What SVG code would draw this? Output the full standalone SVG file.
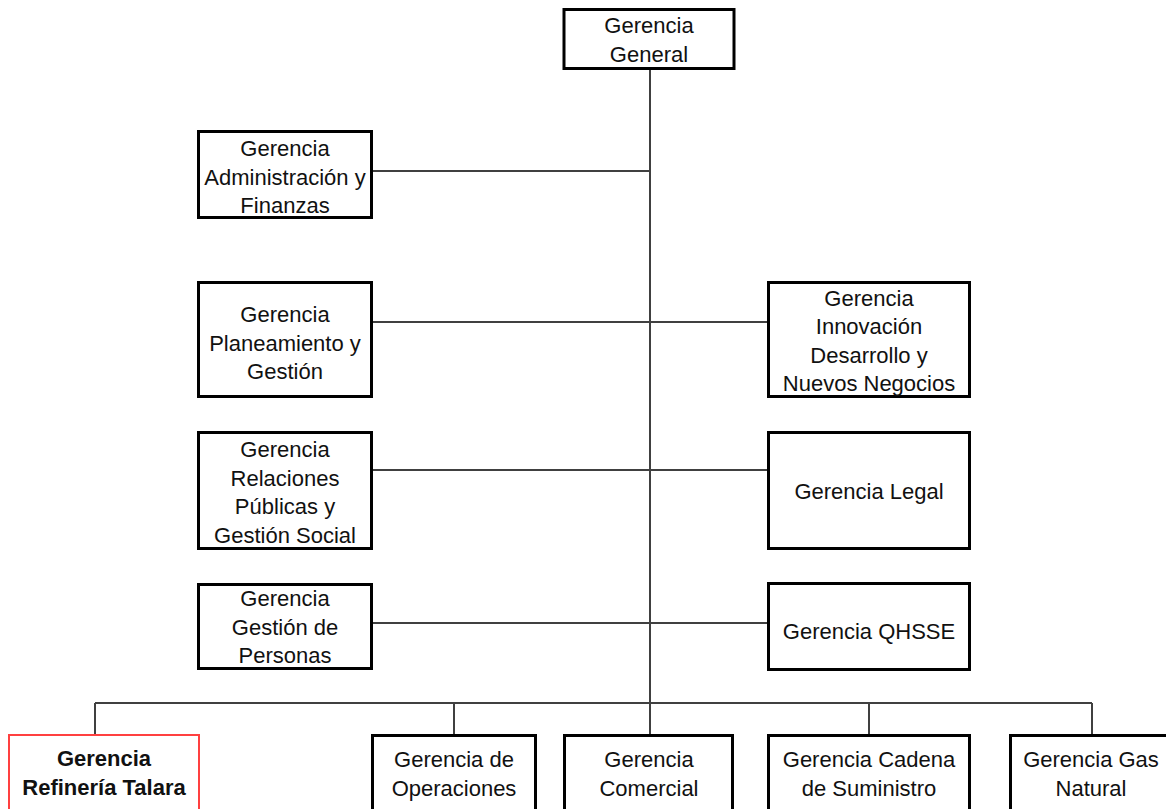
<svg xmlns="http://www.w3.org/2000/svg" width="1166" height="809" viewBox="0 0 1166 809">
<style>
.box{fill:#fff;stroke:#000;stroke-width:3}
.red{fill:#fff;stroke:#ff4040;stroke-width:2}
.t{font-family:"Liberation Sans",Arial,sans-serif;font-size:22px;fill:#111;text-anchor:middle}
.b{font-weight:bold}
.c{stroke:#404040;stroke-width:2;fill:none}
</style>
<rect width="1166" height="809" fill="#fff"/>
<g id="connectors">
<line class="c" x1="650" y1="70" x2="650" y2="734"/>
<line class="c" x1="373" y1="171" x2="650" y2="171"/>
<line class="c" x1="373" y1="322" x2="767" y2="322"/>
<line class="c" x1="373" y1="470" x2="767" y2="470"/>
<line class="c" x1="373" y1="623" x2="767" y2="623"/>
<line class="c" x1="95" y1="703" x2="1092" y2="703"/>
<line class="c" x1="95" y1="703" x2="95" y2="734"/>
<line class="c" x1="454" y1="703" x2="454" y2="734"/>
<line class="c" x1="869" y1="703" x2="869" y2="734"/>
<line class="c" x1="1092" y1="703" x2="1092" y2="734"/>
</g>
<g id="general">
<rect class="box" x="564" y="9.5" width="170" height="59"/>
<text class="t" x="649" y="33">Gerencia</text>
<text class="t" x="649" y="62">General</text>
</g>
<g id="admin">
<rect class="box" x="198.5" y="131.5" width="173" height="86"/>
<text class="t" x="285" y="156">Gerencia</text>
<text class="t" x="285" y="184.5">Administración y</text>
<text class="t" x="285" y="213">Finanzas</text>
</g>
<g id="planeamiento">
<rect class="box" x="198.5" y="282.5" width="173" height="114"/>
<text class="t" x="285" y="322">Gerencia</text>
<text class="t" x="285" y="350.5">Planeamiento y</text>
<text class="t" x="285" y="379">Gestión</text>
</g>
<g id="innovacion">
<rect class="box" x="768.5" y="282.5" width="201" height="114"/>
<text class="t" x="869" y="305.5">Gerencia</text>
<text class="t" x="869" y="334">Innovación</text>
<text class="t" x="869" y="362.5">Desarrollo y</text>
<text class="t" x="869" y="390.5">Nuevos Negocios</text>
</g>
<g id="relaciones">
<rect class="box" x="198.5" y="432.5" width="173" height="116"/>
<text class="t" x="285" y="457">Gerencia</text>
<text class="t" x="285" y="485.5">Relaciones</text>
<text class="t" x="285" y="514">Públicas y</text>
<text class="t" x="285" y="542.5">Gestión Social</text>
</g>
<g id="legal">
<rect class="box" x="768.5" y="432.5" width="201" height="116"/>
<text class="t" x="869" y="499">Gerencia Legal</text>
</g>
<g id="personas">
<rect class="box" x="198.5" y="584.5" width="173" height="84"/>
<text class="t" x="285" y="606">Gerencia</text>
<text class="t" x="285" y="634.5">Gestión de</text>
<text class="t" x="285" y="663">Personas</text>
</g>
<g id="qhsse">
<rect class="box" x="768.5" y="583.5" width="201" height="86"/>
<text class="t" x="869" y="639">Gerencia QHSSE</text>
</g>
<g id="refineria">
<rect class="red" x="9" y="735" width="190" height="90"/>
<text class="t b" x="104" y="766">Gerencia</text>
<text class="t b" x="104" y="795">Refinería Talara</text>
</g>
<g id="operaciones">
<rect class="box" x="372.5" y="735.5" width="163" height="90"/>
<text class="t" x="454" y="767">Gerencia de</text>
<text class="t" x="454" y="796">Operaciones</text>
</g>
<g id="comercial">
<rect class="box" x="564.5" y="735.5" width="168" height="90"/>
<text class="t" x="649" y="767">Gerencia</text>
<text class="t" x="649" y="796">Comercial</text>
</g>
<g id="cadena">
<rect class="box" x="768.5" y="735.5" width="201" height="90"/>
<text class="t" x="869" y="767">Gerencia Cadena</text>
<text class="t" x="869" y="796">de Suministro</text>
</g>
<g id="gas">
<rect class="box" x="1010.5" y="735.5" width="170" height="90"/>
<text class="t" x="1091" y="767">Gerencia Gas</text>
<text class="t" x="1091" y="796">Natural</text>
</g>
</svg>
